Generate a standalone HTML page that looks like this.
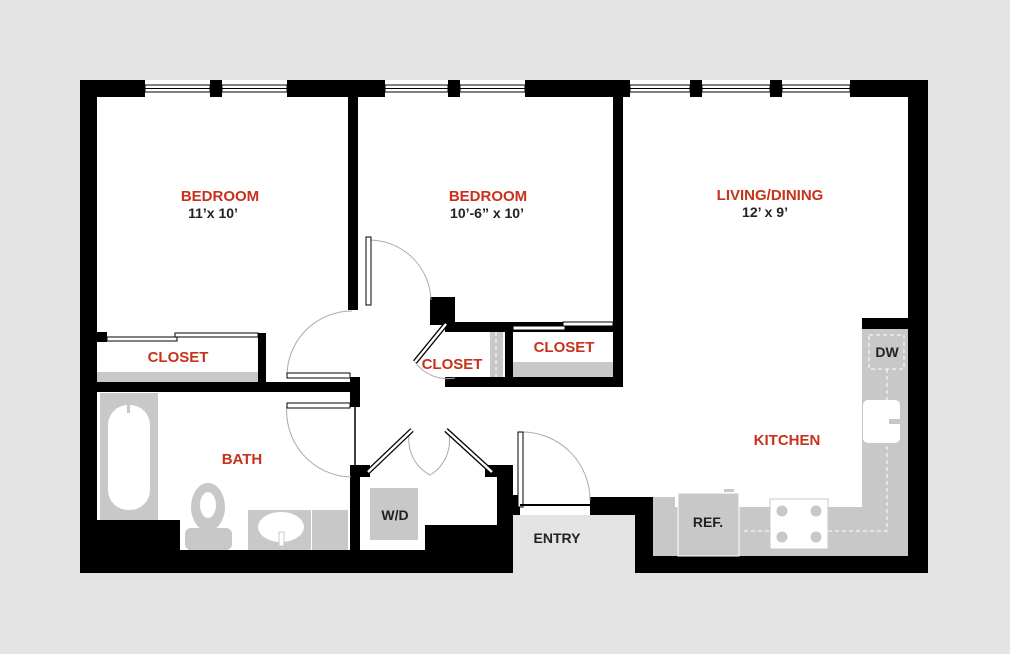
<!DOCTYPE html>
<html><head><style>
html,body{margin:0;padding:0;background:#e4e4e4;}
svg{display:block}
text{font-family:"Liberation Sans",sans-serif;font-weight:bold;text-anchor:middle}
.r{fill:#c8321a;font-size:15px}
.k{fill:#222;font-size:14px}
</style></head><body>
<svg width="1010" height="654" viewBox="0 0 1010 654">
<rect width="1010" height="654" fill="#e4e4e4"/>
<!-- floor -->
<rect x="80" y="80" width="848" height="493" fill="#fff"/>
<rect x="513" y="515" width="122" height="60" fill="#e4e4e4"/>
<!-- outer walls -->
<g fill="#000">
<rect x="80" y="80" width="17" height="493"/>
<rect x="908" y="80" width="20" height="493"/>
<rect x="80" y="80" width="65" height="17"/>
<rect x="210" y="80" width="12" height="17"/>
<rect x="287" y="80" width="98" height="17"/>
<rect x="448" y="80" width="12" height="17"/>
<rect x="525" y="80" width="105" height="17"/>
<rect x="690" y="80" width="12" height="17"/>
<rect x="770" y="80" width="12" height="17"/>
<rect x="850" y="80" width="78" height="17"/>
<rect x="80" y="550" width="433" height="23"/>
<rect x="80" y="520" width="100" height="53"/>
<rect x="635" y="556" width="293" height="17"/>
<rect x="635" y="497" width="18" height="76"/>
<rect x="590" y="497" width="63" height="18"/>
<rect x="497" y="465" width="16" height="108"/>
<rect x="425" y="525" width="88" height="48"/>
<rect x="508" y="495" width="12" height="20"/>
<!-- interior -->
<rect x="348" y="97" width="10" height="213"/>
<rect x="613" y="97" width="10" height="288"/>
<rect x="97" y="382" width="263" height="10"/>
<rect x="350" y="377" width="10" height="30"/>
<rect x="258" y="333" width="8" height="55"/>
<rect x="97" y="332" width="10" height="10"/>
<rect x="350" y="465" width="10" height="108"/>
<rect x="360" y="465" width="10" height="12"/>
<rect x="485" y="465" width="12" height="12"/>
<rect x="430" y="297" width="25" height="28"/>
<rect x="445" y="322" width="178" height="10"/>
<rect x="445" y="377" width="178" height="10"/>
<rect x="505" y="322" width="8" height="63"/>
<rect x="862" y="318" width="48" height="11"/>
</g>
<!-- windows -->
<g fill="#fff" stroke="#000" stroke-width="1">
<rect x="145" y="85" width="65" height="7"/><rect x="222" y="85" width="65" height="7"/>
<rect x="385" y="85" width="63" height="7"/><rect x="460" y="85" width="65" height="7"/>
<rect x="630" y="85" width="60" height="7"/><rect x="702" y="85" width="68" height="7"/><rect x="782" y="85" width="68" height="7"/>
</g>
<g stroke="#000" stroke-width="1"><line x1="145" y1="88.5" x2="287" y2="88.5"/><line x1="385" y1="88.5" x2="525" y2="88.5"/><line x1="630" y1="88.5" x2="850" y2="88.5"/></g>
<!-- closets -->
<g fill="#c8c8c8">
<rect x="97" y="372" width="161" height="10"/>
<rect x="513" y="362" width="100" height="15"/>
<rect x="490" y="332" width="13" height="45"/>
</g>
<line x1="496" y1="332" x2="496" y2="377" stroke="#fff" stroke-dasharray="4,3"/>
<g fill="#fff" stroke="#000" stroke-width="1">
<rect x="107" y="337" width="70" height="4"/><rect x="175" y="333" width="83" height="4"/>
<rect x="513" y="326" width="52" height="4"/><rect x="563" y="322" width="50" height="4"/>
</g>
<!-- doors -->
<g fill="none" stroke="#aaa" stroke-width="1">
<path d="M287 376 A65 65 0 0 1 352 311"/>
<path d="M287 404 A66 66 0 0 0 351 477"/>
<path d="M369 240 A62 62 0 0 1 431 300"/>
<path d="M415 362 A40 40 0 0 0 455 378"/>
<path d="M410 430 A40 40 0 0 0 430 475"/>
<path d="M448 430 A40 40 0 0 1 430 475"/>
<path d="M522 432 A68 68 0 0 1 590 500"/>
</g>
<g fill="#fff" stroke="#000" stroke-width="1">
<rect x="287" y="373" width="63" height="5"/>
<rect x="287" y="403" width="63" height="5"/>
<rect x="366" y="237" width="5" height="68"/>
<rect x="518" y="432" width="5" height="75"/>
</g>
<line x1="355" y1="407" x2="355" y2="477" stroke="#000" stroke-width="1.5"/>
<line x1="520" y1="505" x2="590" y2="505" stroke="#000" stroke-width="2"/>
<g stroke="#000" stroke-width="5" stroke-linecap="butt"><line x1="368" y1="472" x2="412" y2="430"/><line x1="446" y1="430" x2="492" y2="472"/><line x1="446" y1="324" x2="415" y2="362"/></g>
<g stroke="#fff" stroke-width="2.5"><line x1="368" y1="472" x2="412" y2="430"/><line x1="446" y1="430" x2="492" y2="472"/><line x1="446" y1="324" x2="415" y2="362"/></g>
<!-- bath fixtures -->
<rect x="100" y="393" width="58" height="127" fill="#c8c8c8"/>
<rect x="108" y="405" width="42" height="105" rx="20" fill="#fff"/>
<rect x="127" y="403" width="3" height="10" fill="#c8c8c8"/>
<rect x="180" y="520" width="170" height="30" fill="#fff"/>
<ellipse cx="208" cy="507" rx="17" ry="24" fill="#c8c8c8"/>
<ellipse cx="208" cy="505" rx="8" ry="13" fill="#fff"/>
<rect x="185" y="528" width="47" height="22" rx="6" fill="#c8c8c8"/>
<rect x="248" y="510" width="63" height="40" fill="#c8c8c8"/>
<rect x="312" y="510" width="36" height="40" fill="#c8c8c8"/>
<ellipse cx="281" cy="527" rx="23" ry="15" fill="#fff"/>
<rect x="279" y="532" width="5" height="14" fill="#fff" stroke="#c8c8c8"/>
<rect x="370" y="488" width="48" height="52" fill="#c8c8c8"/>
<!-- kitchen -->
<g fill="#c8c8c8">
<rect x="862" y="329" width="46" height="227"/>
<rect x="653" y="507" width="255" height="49"/>
<rect x="653" y="497" width="22" height="59"/>
<rect x="678" y="493" width="61" height="63" stroke="#fff" stroke-width="1"/>
<rect x="724" y="489" width="10" height="3"/>
</g>
<rect x="863" y="400" width="37" height="43" rx="5" fill="#fff"/>
<rect x="889" y="419" width="16" height="5" fill="#c8c8c8"/>
<g fill="none" stroke="#fff" stroke-dasharray="4,3"><rect x="869" y="335" width="35" height="34"/><polyline points="887,369 887,531 741,531"/></g>
<rect x="770" y="499" width="58" height="50" fill="#fff" stroke="#c8c8c8"/>
<g fill="#c8c8c8"><circle cx="782" cy="511" r="5.5"/><circle cx="816" cy="511" r="5.5"/><circle cx="782" cy="537" r="5.5"/><circle cx="816" cy="537" r="5.5"/></g>
<!-- labels -->
<text class="r" x="220" y="201">BEDROOM</text>
<text class="k" x="213" y="218">11’x 10’</text>
<text class="r" x="488" y="201">BEDROOM</text>
<text class="k" x="487" y="218">10’-6” x 10’</text>
<text class="r" x="770" y="200">LIVING/DINING</text>
<text class="k" x="765" y="217">12’ x 9’</text>
<text class="r" x="178" y="362">CLOSET</text>
<text class="r" x="452" y="369">CLOSET</text>
<text class="r" x="564" y="352">CLOSET</text>
<text class="r" x="242" y="464">BATH</text>
<text class="r" x="787" y="445">KITCHEN</text>
<text class="k" x="887" y="357">DW</text>
<text class="k" x="708" y="527">REF.</text>
<text class="k" x="395" y="520">W/D</text>
<text class="k" x="557" y="543">ENTRY</text>
</svg>
</body></html>
